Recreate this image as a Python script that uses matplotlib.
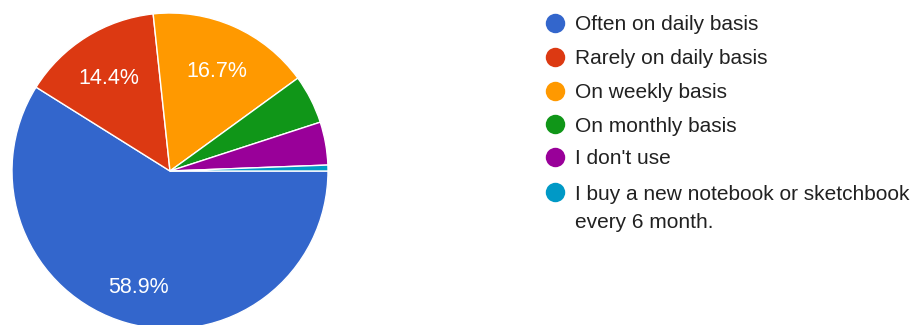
import matplotlib.pyplot as plt
from matplotlib.lines import Line2D

plt.rcParams['font.family'] = ['Liberation Sans', 'DejaVu Sans']

# Risposte al sondaggio (percentuali)
labels = ['Often on daily basis', 'Rarely on daily basis', 'On weekly basis',
          'On monthly basis', "I don't use",
          'I buy a new notebook or sketchbook\nevery 6 month.']
shares = [58.9, 14.4, 16.7, 5.0, 4.4, 0.6]
colors = ['#3366CC', '#DC3912', '#FF9900', '#109618', '#990099', '#0099C6']

W, H = 916, 325
fig = plt.figure(figsize=(W / 100, H / 100), dpi=100)

# Torta: centro (170, 171) px, raggio 158 px
cx, cy, r = 170, 171, 158
ax = fig.add_axes([(cx - r) / W, (H - cy - r) / H, 2 * r / W, 2 * r / H])


def fmt(p):
    return f'{p:.1f}%' if p > 10 else ''


wedges, texts, autotexts = ax.pie(
    shares, colors=colors, startangle=0, counterclock=False,
    autopct=fmt, pctdistance=0.73,
    wedgeprops=dict(edgecolor='white', linewidth=1),
    textprops=dict(color='white', fontsize=15.5))
for t in autotexts:
    t.set_va('center_baseline')
    x, y = t.get_position()
    t.set_position((x, y - 0.02))
ax.set_xlim(-1, 1)
ax.set_ylim(-1, 1)
ax.set_aspect('equal')
ax.axis('off')

# Legenda disegnata a mano, una riga alla volta
lx, tx = 555, 575
ys = [23, 57, 91, 124, 157, 192]
step = 28
for lab, col, y in zip(labels, colors, ys):
    fig.add_artist(Line2D([lx / W], [1 - y / H], marker='o', markersize=14,
                          color=col, markeredgewidth=0, transform=fig.transFigure))
    for i, line in enumerate(lab.split('\n')):
        fig.text(tx / W, 1 - (y + i * step) / H, line, fontsize=15,
                 color='#212121', va='center_baseline')

fig.savefig('out.png', dpi=100)
